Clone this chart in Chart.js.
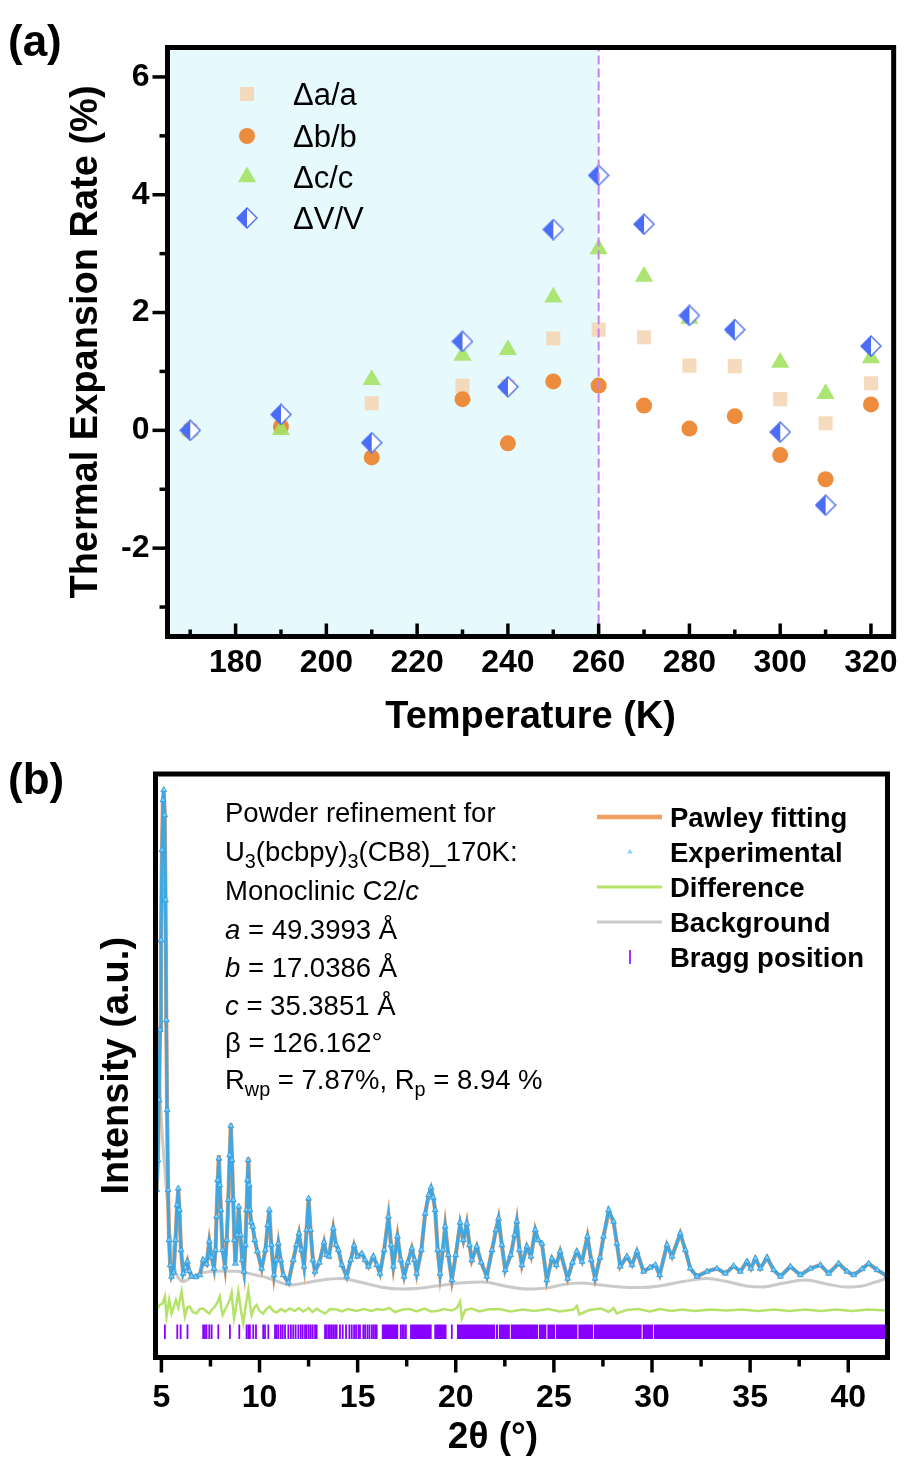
<!DOCTYPE html>
<html>
<head>
<meta charset="utf-8">
<script src="https://cdn.jsdelivr.net/npm/chart.js@4.4.1/dist/chart.umd.min.js"></script>
<style>
  html, body { margin: 0; padding: 0; background: #fff; }
  body { width: 905px; height: 1461px; position: relative; overflow: hidden; }
  canvas { position: absolute; left: 0; }
  #chartA { top: 0; }
  #chartB { top: 700px; }
</style>
</head>
<body>
<canvas id="chartA" width="905" height="750" style="width:905px;height:750px"></canvas>
<canvas id="chartB" width="905" height="761" style="width:905px;height:761px"></canvas>
<script>
// ---------------- Panel (a): lattice thermal expansion ----------------
const temperatures = [170, 190, 210, 230, 240, 250, 260, 270, 280, 290, 300, 310, 320];
const expansionA = [0, 0.05, 0.46, 0.76, 0.75, 1.56, 1.71, 1.58, 1.10, 1.09, 0.53, 0.12, 0.80];
const expansionB = [0, 0.06, -0.46, 0.53, -0.22, 0.83, 0.76, 0.42, 0.03, 0.24, -0.42, -0.83, 0.44];
const expansionC = [0, 0.01, 0.86, 1.27, 1.37, 2.26, 3.08, 2.61, 1.90, 1.73, 1.15, 0.62, 1.23];
const expansionV = [0, 0.27, -0.21, 1.51, 0.74, 3.41, 4.33, 3.50, 1.95, 1.71, -0.03, -1.27, 1.43];
const expansionLabels = ['Δa/a', 'Δb/b', 'Δc/c', 'ΔV/V'];
const tempMajorTicks = [180, 200, 220, 240, 260, 280, 300, 320];
const tempMinorTicks = [170, 190, 210, 230, 250, 270, 290, 310];
const rateMajorTicks = [-2, 0, 2, 4, 6];
const rateMinorTicks = [-3, -1, 1, 3, 5];
const tempRange = [165, 325];
const rateRange = [-3.5, 6.5];
const transitionTemp = 260;

// ---------------- Panel (b): Pawley refinement, 170 K ----------------
// [2θ (°), intensity (a.u.)]
const experimental = [
  [4.76,18],[4.82,24],[4.88,36],[4.93,50],[4.98,68],[5.03,86],[5.08,96],[5.12,98],[5.17,93],[5.21,76],[5.25,52],[5.29,34],[5.34,18],[5.39,8],[5.45,3],[5.52,0.7],
  [5.62,1.5],[5.72,8],[5.80,15],[5.86,18.3],[5.92,14],[6.00,6],[6.11,1.3],[6.22,2.5],[6.32,3.7],[6.42,1.8],[6.54,0.7],[6.75,0.6],[6.96,1],[7.13,4],[7.30,3.2],[7.44,7.7],[7.56,4.5],[7.68,2.3],
  [7.76,6],[7.81,12.7],[7.87,20],[7.93,24.3],[7.98,19],[8.03,14],[8.12,6],[8.24,2.7],
  [8.33,8],[8.41,16],[8.48,25],[8.54,30.8],[8.60,24],[8.66,16],[8.72,8],[8.77,3.3],
  [8.86,9],[8.94,14.7],[9.03,9],[9.12,4],[9.21,1.7],
  [9.28,7],[9.34,14],[9.39,20],[9.43,24],[9.47,19],[9.51,14],[9.58,11.5],[9.65,10.7],[9.76,8],[9.89,5.7],[10.11,2.3],
  [10.30,6],[10.42,11],[10.50,14],[10.60,7],[10.74,1],[10.85,4],[10.96,7.3],[11.08,4],[11.21,1],[11.47,-0.5],
  [11.72,4],[11.88,7],[12.01,9.3],[12.14,6],[12.27,2.7],[12.40,10],[12.50,16.3],[12.60,10],[12.72,4],[12.83,1.7],
  [13.05,3.5],[13.29,7.5],[13.42,5],[13.54,4.7],[13.76,10.3],[13.90,7],[14.02,6],[14.20,3],[14.44,0.7],
  [14.65,4],[14.82,6.9],[14.99,4.7],[15.21,5.3],[15.38,4],[15.55,2.7],[15.80,4.7],[15.98,3],[16.14,1.3],
  [16.35,6],[16.57,12.7],[16.70,7],[16.82,2.7],[17.03,8.7],[17.20,4],[17.37,0.7],[17.55,3.5],[17.76,6.3],[17.90,4],[18.01,1.3],
  [18.25,6],[18.44,13.3],[18.62,17],[18.74,18.5],[18.85,16.5],[18.95,14],[19.08,6],[19.20,1.3],[19.34,6],[19.46,10.7],[19.62,5],[19.80,0],
  [20.00,5],[20.22,11.5],[20.39,8],[20.56,11.3],[20.70,7],[20.82,4],[21.07,6.7],[21.30,3.5],[21.58,0.7],
  [21.85,6],[22.05,10],[22.18,12.3],[22.35,7],[22.52,2],[22.80,5],[23.00,9],[23.11,11.7],[23.25,6],[23.37,3],[23.62,6.7],[23.83,4.7],[24.05,10],[24.20,8],[24.39,7.3],[24.64,0],
  [24.90,4.3],[25.12,3],[25.32,5.7],[25.70,0.3],[25.95,3.5],[26.17,5.7],[26.43,3.7],[26.71,8.7],[26.90,4],[27.10,0.3],
  [27.35,4.5],[27.53,8.7],[27.79,14],[28.04,11.7],[28.21,7.3],[28.38,2.7],[28.72,4.7],[28.98,3],[29.23,5.7],[29.57,1.7],
  [29.90,2.5],[30.17,3],[30.39,1],[30.76,7],[31.02,4.7],[31.44,9.3],[31.70,6],[31.95,2.3],[32.29,0.7],[32.80,1.7],[33.31,2.3],[33.74,1.3],
  [34.16,2.8],[34.50,1.7],[34.84,3.7],[35.04,2.3],[35.27,4.3],[35.52,2.3],[35.86,4.5],[36.20,2],[36.54,0.7],[37.05,2.7],[37.56,1],[38.07,2.3],
  [38.58,3],[39.00,1.3],[39.51,3.3],[39.94,1.7],[40.28,1],[40.70,2.2],[41.04,3.3],[41.47,2],[41.98,0.8]
];
const pawleyFit = [
  [4.76,18],[4.82,24],[4.88,36],[4.93,50],[4.98,68],[5.03,86],[5.08,96],[5.12,97.5],[5.17,93],[5.21,76],[5.25,52],[5.29,34],[5.34,18],[5.39,8],[5.45,3],[5.52,0.7],
  [5.62,1.5],[5.72,8],[5.80,15],[5.86,18],[5.92,14],[6.00,6],[6.11,1.3],[6.22,2.5],[6.32,3.7],[6.42,1.8],[6.54,0.7],[6.75,0.6],[6.96,1],[7.13,4],[7.30,3.2],[7.44,7.7],[7.56,4.5],[7.68,2.3],
  [7.76,6],[7.81,12.7],[7.87,20],[7.93,25],[7.98,19],[8.03,14],[8.12,6],[8.24,2.7],
  [8.33,8],[8.41,16],[8.48,25],[8.54,31.3],[8.60,24],[8.66,16],[8.72,8],[8.77,3.3],
  [8.86,9],[8.94,14.5],[9.03,9],[9.12,4],[9.21,1.7],
  [9.28,7],[9.34,14],[9.39,20],[9.43,24.5],[9.47,19],[9.51,14],[9.58,11.5],[9.65,10.7],[9.76,8],[9.89,5.7],[10.11,2.3],
  [10.30,6],[10.42,11],[10.50,14],[10.60,7],[10.74,1],[10.85,4],[10.96,7.3],[11.08,4],[11.21,1],[11.47,-0.5],
  [11.72,4],[11.88,7],[12.01,9.3],[12.14,6],[12.27,2.7],[12.40,10],[12.50,16.3],[12.60,10],[12.72,4],[12.83,1.7],
  [13.05,3.5],[13.29,7.5],[13.42,5],[13.54,4.7],[13.76,10.3],[13.90,7],[14.02,6],[14.20,3],[14.44,0.7],
  [14.65,4],[14.82,6.9],[14.99,4.7],[15.21,5.3],[15.38,4],[15.55,2.7],[15.80,4.7],[15.98,3],[16.14,1.3],
  [16.35,6],[16.57,12.7],[16.70,7],[16.82,2.7],[17.03,8.7],[17.20,4],[17.37,0.7],[17.55,3.5],[17.76,6.3],[17.90,4],[18.01,1.3],
  [18.25,6],[18.44,13.3],[18.62,17],[18.74,18.2],[18.85,16.5],[18.95,14],[19.08,6],[19.20,1.3],[19.34,6],[19.46,10.7],[19.62,5],[19.80,0],
  [20.00,5],[20.22,11],[20.39,8],[20.56,11.3],[20.70,7],[20.82,4],[21.07,6.7],[21.30,3.5],[21.58,0.7],
  [21.85,6],[22.05,10],[22.18,12.3],[22.35,7],[22.52,2],[22.80,5],[23.00,9],[23.11,11.7],[23.25,6],[23.37,3],[23.62,6.7],[23.83,4.7],[24.05,10],[24.20,8],[24.39,7.3],[24.64,0],
  [24.90,4.3],[25.12,3],[25.32,5.7],[25.70,0.3],[25.95,3.5],[26.17,5.7],[26.43,3.7],[26.71,8.7],[26.90,4],[27.10,0.3],
  [27.35,4.5],[27.53,8.7],[27.79,13.6],[28.04,11.7],[28.21,7.3],[28.38,2.7],[28.72,4.7],[28.98,3],[29.23,5.7],[29.57,1.7],
  [29.90,2.5],[30.17,3],[30.39,1],[30.76,7],[31.02,4.7],[31.44,9.3],[31.70,6],[31.95,2.3],[32.29,0.7],[32.80,1.7],[33.31,2.3],[33.74,1.3],
  [34.16,2.8],[34.50,1.7],[34.84,3.7],[35.04,2.3],[35.27,4.3],[35.52,2.3],[35.86,4.5],[36.20,2],[36.54,0.7],[37.05,2.7],[37.56,1],[38.07,2.3],
  [38.58,3],[39.00,1.3],[39.51,3.3],[39.94,1.7],[40.28,1],[40.70,2.2],[41.04,3.3],[41.47,2],[41.98,0.8]
];
const background = [
  [4.70,62],[4.80,50],[4.90,40],[5.00,32],[5.10,26],[5.20,21],[5.30,16],[5.40,11],[5.50,7],[5.60,4],[5.70,2],[5.85,0.5],[6.10,-0.3],[6.50,0.5],
  [6.96,1.3],[7.50,1.7],[8.15,1.8],[9.17,1.6],[9.80,1.0],[10.36,0.5],[11.00,-0.4],[11.55,-1],[12.30,-0.6],[13.20,0],[14.10,0.3],[15.20,-0.5],
  [16.31,-1.5],[17.20,-1.8],[18.00,-1.7],[19.00,-1.2],[20.20,-0.6],[21.40,-0.4],[22.50,-1.2],[23.60,-1.8],[24.60,-1.6],[25.50,-0.9],[26.40,-0.6],
  [27.40,-1.0],[28.40,-1.4],[29.40,-1.5],[30.40,-1.2],[31.60,-0.3],[32.80,0.3],[33.80,-0.3],[34.80,-1.2],[35.60,-1.4],[36.60,-0.7],[37.80,0],
  [38.90,-0.8],[39.90,-1.4],[40.70,-1.2],[41.40,-0.4],[42.00,0.3]
];
const difference = [
  [4.75,-6],[4.90,-5],[5.06,-4.7],[5.18,-3.3],[5.26,-7.3],[5.40,-4],[5.52,-6.7],[5.62,-5.5],[5.74,-4],[5.86,-5.5],[6.03,-2.3],[6.20,-7.3],[6.32,-5.5],
  [6.45,-5.3],[6.60,-6.4],[6.79,-6.7],[6.95,-5.8],[7.13,-5.7],[7.30,-6.3],[7.44,-6.7],[7.60,-5.8],[7.73,-5.3],[7.85,-4.5],[7.98,-3.3],[8.05,-5.5],
  [8.12,-7],[8.24,-6],[8.36,-5],[8.48,-4],[8.58,-2.5],[8.70,-7.7],[8.80,-5.5],[8.92,-2.3],[9.05,-6],[9.17,-8.7],[9.30,-5],[9.43,-2],[9.52,-5],
  [9.60,-7],[9.72,-5.6],[9.85,-5],[10.00,-6.2],[10.19,-6.7],[10.35,-5.8],[10.53,-5.3],[10.70,-6.2],[10.87,-6.5],[11.10,-5.8],[11.30,-6.3],
  [11.55,-5.7],[11.80,-6.2],[12.00,-5.6],[12.23,-6.3],[12.50,-5.6],[12.70,-6.4],[12.91,-5.7],[13.10,-6.2],[13.34,-6.7],[13.60,-5.8],[13.93,-5.9],
  [14.20,-6.3],[14.50,-5.8],[14.95,-6.2],[15.30,-5.8],[15.70,-6.2],[16.00,-5.8],[16.31,-6.0],[16.60,-5.6],[16.90,-6.4],[17.30,-5.9],[17.67,-5.8],
  [18.00,-6.3],[18.40,-5.7],[18.74,-6.3],[19.03,-6.2],[19.40,-5.8],[19.80,-6.1],[20.05,-5.6],[20.22,-4.3],[20.31,-7.7],[20.48,-6],[20.80,-5.7],
  [21.20,-6.3],[21.60,-5.9],[22.20,-5.8],[22.80,-6.3],[23.40,-5.9],[24.00,-6.2],[24.70,-5.8],[25.30,-6.3],[26.00,-5.9],[26.17,-5.2],[26.30,-6.9],
  [26.80,-6],[27.40,-5.7],[27.80,-6.4],[28.04,-5.6],[28.20,-6.7],[28.70,-6],[29.30,-5.8],[29.90,-6.3],[30.40,-5.8],[31.00,-6.2],[31.50,-5.9],
  [32.20,-6.2],[33.00,-5.9],[33.80,-6.1],[34.60,-5.9],[35.40,-6.2],[36.20,-5.9],[37.00,-6.2],[37.80,-5.9],[38.60,-6.2],[39.40,-5.9],[40.20,-6.2],
  [41.00,-5.9],[41.98,-6.1]
];
// single reflections (2θ) and ranges where reflections merge into a solid band
const braggTicks = [5.18,5.81,5.98,6.33,7.13,7.22,7.30,7.44,7.56,7.90,8.49,8.97,9.34,9.43,9.51,9.68,9.82,10.19,10.28,10.45,10.79,10.87,10.96,
  11.08,11.18,11.30,11.47,11.60,11.72,11.84,11.98,12.10,12.20,12.32,12.40,12.51,12.61,12.71,12.83,12.91,13.34,13.42,13.51,13.59,13.68,13.76,
  13.85,13.93,14.10,14.24,14.41,14.58,14.70,14.82,14.92,15.04,15.12,15.29,15.38,15.50,15.60,15.72,15.80,15.89,15.97,17.20,17.28,17.36,17.46,19.80];
const braggBands = [[16.22,17.08],[17.67,18.78],[18.90,19.54],[20.05,22.00],[22.03,22.17],[22.20,22.76],[22.79,24.21],[24.24,24.63],
  [24.66,25.06],[25.09,26.21],[26.24,27.01],[27.04,29.48],[29.51,30.07],[30.10,42.0]];
const braggLevel = { center: -10.35, top: -8.9, bottom: -11.8 };
const thetaMajorTicks = [5, 10, 15, 20, 25, 30, 35, 40];
const thetaMinorTicks = [7.5, 12.5, 17.5, 22.5, 27.5, 32.5, 37.5];
const thetaRange = [4.7, 42.0];
const intensityRange = [-15.5, 101.2];
const legendLabelsB = ['Pawley fitting', 'Experimental', 'Difference', 'Background', 'Bragg position'];

// ---------------- styling ----------------
const FONT = "'Liberation Sans', Arial, Helvetica, sans-serif";
const COLORS = {
  a: 'rgba(244,212,178,0.85)', b: 'rgba(236,128,40,0.9)', c: 'rgba(164,226,100,0.9)', v: '#4B6CF5',
  shade: '#E6FAFD', dash: '#C97FEF',
  obs: 'rgba(48,168,238,0.92)', obsFill: 'rgba(120,205,250,0.95)', obsEdge: '#2596DE',
  fit: '#F2A062', diff: '#B5E36A', bkg: '#CACACA', bragg: '#8800FF'
};

// half-filled diamond marker for ΔV/V
function halfDiamond(size, color) {
  const c = document.createElement('canvas');
  c.width = size; c.height = size;
  const g = c.getContext('2d');
  const h = size / 2, m = 1;
  const outline = () => { g.beginPath(); g.moveTo(h, m); g.lineTo(size - m, h); g.lineTo(h, size - m); g.lineTo(m, h); g.closePath(); };
  outline(); g.fillStyle = '#fff'; g.fill();
  g.beginPath(); g.moveTo(h, m); g.lineTo(h, size - m); g.lineTo(m, h); g.closePath();
  g.fillStyle = color; g.fill();
  outline(); g.strokeStyle = color; g.lineWidth = 1.4; g.stroke();
  return c;
}
const diamondImg = halfDiamond(22, COLORS.v);

const toXY = (xs, ys) => xs.map((x, i) => ({ x, y: ys[i] }));
const pairs = arr => arr.map(p => ({ x: p[0], y: p[1] }));

// frame and tick marks drawn on the chart's own scales
const framePlugin = {
  id: 'frame',
  afterDatasetsDraw(chart, args, o) {
    const { ctx, chartArea: a } = chart;
    const sx = chart.scales.x, sy = chart.scales.y;
    ctx.save();
    ctx.strokeStyle = '#000';
    ctx.lineWidth = o.tickWidth;
    const xt = (vals, len) => vals.forEach(v => {
      const px = sx.getPixelForValue(v);
      ctx.beginPath(); ctx.moveTo(px, a.bottom); ctx.lineTo(px, a.bottom + o.xDir * len); ctx.stroke();
    });
    const yt = (vals, len) => vals.forEach(v => {
      const py = sy.getPixelForValue(v);
      ctx.beginPath(); ctx.moveTo(a.left, py); ctx.lineTo(a.left - len, py); ctx.stroke();
    });
    xt(o.xMajor, o.xMajorLen); xt(o.xMinor, o.xMinorLen);
    if (o.yMajor) { yt(o.yMajor, o.yMajorLen); yt(o.yMinor, o.yMinorLen); }
    ctx.lineWidth = o.frameWidth;
    ctx.strokeRect(a.left, a.top, a.right - a.left, a.bottom - a.top);
    ctx.restore();
  }
};

function drawRuns(ctx, x, y, runs, size) {
  let cx = x;
  runs.forEach(r => {
    const s = r.sub ? size * 0.72 : size;
    ctx.font = (r.it ? 'italic ' : '') + s + 'px ' + FONT;
    ctx.fillText(r.t, cx, y + (r.sub ? size * 0.25 : 0));
    cx += ctx.measureText(r.t).width;
  });
}

// ---------------- chart (a) ----------------
const annotA = {
  id: 'annotA',
  afterDraw(chart) {
    const ctx = chart.ctx;
    ctx.save();
    ctx.fillStyle = '#000';
    ctx.textBaseline = 'alphabetic';
    ctx.textAlign = 'left';
    ctx.font = 'bold 44px ' + FONT;
    ctx.fillText('(a)', 8, 56);
    // legend
    const mx = 247, tx = 293, rows = [94, 136, 177, 218];
    ctx.fillStyle = COLORS.a; ctx.fillRect(mx - 7, rows[0] - 7, 14, 14);
    ctx.fillStyle = COLORS.b; ctx.beginPath(); ctx.arc(mx, rows[1], 8, 0, Math.PI * 2); ctx.fill();
    const r = 10.5;
    ctx.fillStyle = COLORS.c; ctx.beginPath();
    ctx.moveTo(mx, rows[2] - r); ctx.lineTo(mx + r * 0.866, rows[2] + r / 2); ctx.lineTo(mx - r * 0.866, rows[2] + r / 2); ctx.closePath(); ctx.fill();
    ctx.drawImage(diamondImg, mx - 11, rows[3] - 11);
    ctx.fillStyle = '#000';
    ctx.font = '31px ' + FONT;
    expansionLabels.forEach((t, i) => ctx.fillText(t, tx, rows[i] + 11));
    ctx.restore();
  }
};

new Chart(document.getElementById('chartA'), {
  type: 'scatter',
  data: {
    datasets: [
      { type: 'line', data: [{ x: transitionTemp, y: rateRange[0] }, { x: transitionTemp, y: rateRange[1] }],
        borderColor: COLORS.dash, borderWidth: 2, borderDash: [9, 4], pointRadius: 0, order: 0 },
      { label: expansionLabels[3], data: toXY(temperatures, expansionV), pointStyle: diamondImg, pointRadius: 10, order: 1 },
      { label: expansionLabels[2], data: toXY(temperatures, expansionC), pointStyle: 'triangle', pointRadius: 10.5,
        backgroundColor: COLORS.c, borderWidth: 0, order: 2 },
      { label: expansionLabels[1], data: toXY(temperatures, expansionB), pointStyle: 'circle', pointRadius: 8,
        backgroundColor: COLORS.b, borderWidth: 0, order: 3 },
      { label: expansionLabels[0], data: toXY(temperatures, expansionA), pointStyle: 'rect', pointRadius: 10,
        backgroundColor: COLORS.a, borderWidth: 0, order: 4 },
      { type: 'line', data: [{ x: tempRange[0], y: rateRange[1] }, { x: transitionTemp, y: rateRange[1] }],
        fill: 'start', backgroundColor: COLORS.shade, borderWidth: 0, pointRadius: 0, order: 5 }
    ]
  },
  options: {
    responsive: false, animation: false,
    layout: { padding: { top: 47.5, right: 7.5, left: 0, bottom: 0 } },
    plugins: {
      legend: { display: false }, tooltip: { enabled: false },
      frame: { frameWidth: 5, tickWidth: 3.5, xDir: -1, xMajor: tempMajorTicks, xMinor: tempMinorTicks, xMajorLen: 13, xMinorLen: 7,
               yMajor: rateMajorTicks, yMinor: rateMinorTicks, yMajorLen: 15, yMinorLen: 8 }
    },
    scales: {
      x: {
        type: 'linear', min: tempRange[0], max: tempRange[1],
        afterFit: s => { s.height = 113.5; },
        afterBuildTicks: s => { s.ticks = tempMajorTicks.map(v => ({ value: v })); },
        grid: { display: false, drawTicks: false }, border: { display: false },
        ticks: { padding: 7, color: '#000', font: { family: FONT, size: 32, weight: 'bold' }, maxRotation: 0, callback: v => String(v) },
        title: { display: true, text: 'Temperature (K)', color: '#000', font: { family: FONT, size: 38, weight: 'bold' }, padding: { bottom: 10, top: 0 } }
      },
      y: {
        type: 'linear', min: rateRange[0], max: rateRange[1],
        afterFit: s => { s.width = 167.5; },
        afterBuildTicks: s => { s.ticks = rateMajorTicks.map(v => ({ value: v })); },
        grid: { display: false, drawTicks: false }, border: { display: false },
        ticks: { padding: 18, color: '#000', font: { family: FONT, size: 32, weight: 'bold' }, callback: v => String(v) },
        title: { display: true, text: 'Thermal Expansion Rate (%)', color: '#000', font: { family: FONT, size: 38, weight: 'bold' }, padding: { top: 64, bottom: 0 } }
      }
    }
  },
  plugins: [framePlugin, annotA]
});

// ---------------- chart (b) ----------------
const annotB = {
  id: 'annotB',
  afterDraw(chart) {
    const ctx = chart.ctx;
    ctx.save();
    ctx.fillStyle = '#000';
    ctx.textBaseline = 'alphabetic';
    ctx.textAlign = 'left';
    ctx.font = 'bold 44px ' + FONT;
    ctx.fillText('(b)', 8, 94);
    // axis title
    ctx.textAlign = 'center';
    ctx.font = 'bold 37px ' + FONT;
    ctx.fillText('2θ (°)', 493, 748);
    ctx.textAlign = 'left';
    // refinement summary
    const lines = [
      [{ t: 'Powder refinement for' }],
      [{ t: 'U' }, { t: '3', sub: true }, { t: '(bcbpy)' }, { t: '3', sub: true }, { t: '(CB8)_170K:' }],
      [{ t: 'Monoclinic C2/' }, { t: 'c', it: true }],
      [{ t: 'a', it: true }, { t: ' = 49.3993 Å' }],
      [{ t: 'b', it: true }, { t: ' = 17.0386 Å' }],
      [{ t: 'c', it: true }, { t: ' = 35.3851 Å' }],
      [{ t: 'β = 126.162°' }],
      [{ t: 'R' }, { t: 'wp', sub: true }, { t: ' = 7.87%, R' }, { t: 'p', sub: true }, { t: ' = 8.94 %' }]
    ];
    const base = [122, 161, 200, 239, 277, 315, 352, 389];
    lines.forEach((runs, i) => drawRuns(ctx, 225, base[i], runs, 27.5));
    // legend
    const rows = [117, 152, 187, 222, 257];
    ctx.lineCap = 'butt';
    ctx.strokeStyle = COLORS.fit; ctx.lineWidth = 4.5;
    ctx.beginPath(); ctx.moveTo(597, rows[0]); ctx.lineTo(662, rows[0]); ctx.stroke();
    ctx.fillStyle = COLORS.obsFill; ctx.beginPath();
    ctx.moveTo(630, rows[1] - 3); ctx.lineTo(632.6, rows[1] + 1.5); ctx.lineTo(627.4, rows[1] + 1.5); ctx.closePath(); ctx.fill();
    ctx.strokeStyle = COLORS.diff; ctx.lineWidth = 3;
    ctx.beginPath(); ctx.moveTo(597, rows[2]); ctx.lineTo(662, rows[2]); ctx.stroke();
    ctx.strokeStyle = COLORS.bkg; ctx.lineWidth = 3;
    ctx.beginPath(); ctx.moveTo(597, rows[3]); ctx.lineTo(662, rows[3]); ctx.stroke();
    ctx.strokeStyle = COLORS.bragg; ctx.lineWidth = 1.6;
    ctx.beginPath(); ctx.moveTo(630, rows[4] - 7); ctx.lineTo(630, rows[4] + 7); ctx.stroke();
    ctx.fillStyle = '#000';
    ctx.font = 'bold 27.5px ' + FONT;
    legendLabelsB.forEach((t, i) => ctx.fillText(t, 670, rows[i] + 10));
    ctx.restore();
  }
};

const bandPoints = [];
braggBands.forEach(([s, e]) => {
  bandPoints.push({ x: s, y: braggLevel.top }, { x: e, y: braggLevel.top }, { x: e, y: null });
});

new Chart(document.getElementById('chartB'), {
  type: 'scatter',
  data: {
    datasets: [
      { type: 'line', label: legendLabelsB[1], data: pairs(experimental), borderColor: COLORS.obs, borderWidth: 3.2,
        pointStyle: 'triangle', pointRadius: 3.4, pointBackgroundColor: COLORS.obsFill, pointBorderColor: COLORS.obsEdge,
        pointBorderWidth: 0.8, tension: 0, order: 0 },
      { type: 'line', label: legendLabelsB[0], data: pairs(pawleyFit), borderColor: COLORS.fit, borderWidth: 4.2,
        pointRadius: 0, tension: 0, order: 1 },
      { type: 'line', label: legendLabelsB[3], data: pairs(background), borderColor: COLORS.bkg, borderWidth: 3,
        pointRadius: 0, tension: 0.4, cubicInterpolationMode: 'monotone', order: 2 },
      { type: 'line', label: legendLabelsB[2], data: pairs(difference), borderColor: COLORS.diff, borderWidth: 2.5,
        pointRadius: 0, tension: 0, order: 3 },
      { label: legendLabelsB[4], data: braggTicks.map(x => ({ x, y: braggLevel.center })), pointStyle: 'line',
        pointRotation: 90, pointRadius: 7.25, pointBorderWidth: 1.8, pointBorderColor: COLORS.bragg, order: 4 },
      { type: 'line', data: bandPoints, borderWidth: 0, pointRadius: 0, spanGaps: false,
        fill: { value: braggLevel.bottom }, backgroundColor: COLORS.bragg, order: 5 }
    ]
  },
  options: {
    responsive: false, animation: false,
    layout: { padding: { top: 74, right: 17.5, left: 0, bottom: 0 } },
    plugins: {
      legend: { display: false }, tooltip: { enabled: false },
      frame: { frameWidth: 5, tickWidth: 3.5, xDir: 1, xMajor: thetaMajorTicks, xMinor: thetaMinorTicks, xMajorLen: 15, xMinorLen: 9 }
    },
    scales: {
      x: {
        type: 'linear', min: thetaRange[0], max: thetaRange[1],
        afterFit: s => { s.height = 103.5; },
        afterBuildTicks: s => { s.ticks = thetaMajorTicks.map(v => ({ value: v })); },
        grid: { display: false, drawTicks: false }, border: { display: false },
        ticks: { padding: 21, color: '#000', font: { family: FONT, size: 32, weight: 'bold' }, maxRotation: 0, callback: v => String(v) },
        title: { display: false }
      },
      y: {
        type: 'linear', min: intensityRange[0], max: intensityRange[1],
        afterFit: s => { s.width = 155.5; },
        grid: { display: false, drawTicks: false }, border: { display: false },
        ticks: { display: false },
        title: { display: true, text: 'Intensity (a.u.)', color: '#000', font: { family: FONT, size: 38, weight: 'bold' }, padding: { top: 95, bottom: 0 } }
      }
    }
  },
  plugins: [framePlugin, annotB]
});
</script>
</body>
</html>
